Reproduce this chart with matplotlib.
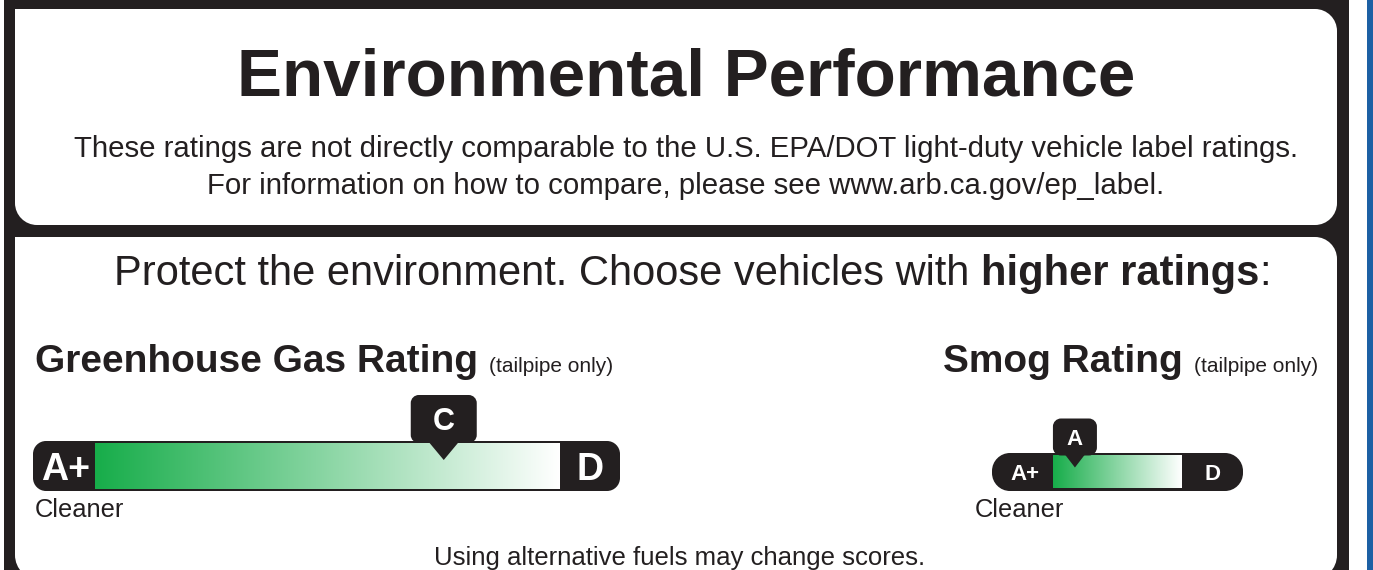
import matplotlib
matplotlib.use("Agg")
import matplotlib.pyplot as plt
import numpy as np
from matplotlib.path import Path
from matplotlib.patches import PathPatch, Rectangle, Polygon
from matplotlib.colors import LinearSegmentedColormap

plt.rcParams['font.family'] = ['Liberation Sans', 'DejaVu Sans']

# label content
title = "Environmental Performance"
note_lines = ["These ratings are not directly comparable to the U.S. EPA/DOT light-duty vehicle label ratings.",
              "For information on how to compare, please see www.arb.ca.gov/ep_label."]
scale_ends = ["A+", "D"]
ghg_grade = "C"
ghg_pos = 0.75      # where the marker sits along the scale (0 = A+, 1 = D)
smog_grade = "A"
smog_pos = 0.17
footer = "Using alternative fuels may change scores."

INK = '#231f20'
GREEN = '#17ad4a'


def rrect(x0, y0, x1, y1, r):
    # rounded rect in pixel coords (y down); r = (tl, tr, br, bl)
    tl, tr, br, bl = r
    k = 0.5523
    verts = [(x0 + tl, y0), (x1 - tr, y0)]
    codes = [Path.MOVETO, Path.LINETO]
    if tr:
        verts += [(x1 - tr + k * tr, y0), (x1, y0 + tr - k * tr), (x1, y0 + tr)]
        codes += [Path.CURVE4] * 3
    verts.append((x1, y1 - br)); codes.append(Path.LINETO)
    if br:
        verts += [(x1, y1 - br + k * br), (x1 - br + k * br, y1), (x1 - br, y1)]
        codes += [Path.CURVE4] * 3
    verts.append((x0 + bl, y1)); codes.append(Path.LINETO)
    if bl:
        verts += [(x0 + bl - k * bl, y1), (x0, y1 - bl + k * bl), (x0, y1 - bl)]
        codes += [Path.CURVE4] * 3
    verts.append((x0, y0 + tl)); codes.append(Path.LINETO)
    if tl:
        verts += [(x0, y0 + tl - k * tl), (x0 + tl - k * tl, y0), (x0 + tl, y0)]
        codes += [Path.CURVE4] * 3
    verts.append((x0 + tl, y0)); codes.append(Path.CLOSEPOLY)
    return Path(verts, codes)


fig = plt.figure(figsize=(13.73, 5.70), dpi=100)
ax = fig.add_axes([0, 0, 1, 1])
ax.set_xlim(0, 1373)
ax.set_ylim(570, 0)
ax.axis('off')

# frame
ax.add_patch(Rectangle((4, 0), 1345, 570, color=INK, lw=0))
ax.add_patch(Rectangle((1367, 0), 6, 570, color='#1c60a4', lw=0))
ax.add_patch(PathPatch(rrect(15, 9, 1337, 225, (0, 22, 22, 22)), fc='white', lw=0))
ax.add_patch(PathPatch(rrect(15, 237, 1337, 580, (0, 22, 25, 25)), fc='white', lw=0))

ax.text(686, 95, title, ha='center', va='baseline', fontsize=48.5, fontweight='bold', color=INK)
ax.text(686, 157, note_lines[0], ha='center', va='baseline', fontsize=21.2, color=INK)
ax.text(686, 194, note_lines[1], ha='center', va='baseline', fontsize=21.2, color=INK)

inv = ax.transData.inverted()


def right_edge(t):
    fig.canvas.draw()
    return inv.transform((t.get_window_extent().x1, 0))[0]


def left_edge(t):
    fig.canvas.draw()
    return inv.transform((t.get_window_extent().x0, 0))[0]


# headline with bold part
t1 = ax.text(114, 285, "Protect the environment. Choose vehicles with ", ha='left', va='baseline',
             fontsize=30, color=INK)
t2 = ax.text(right_edge(t1), 285, "higher ratings", ha='left', va='baseline', fontsize=30,
             fontweight='bold', color=INK)
ax.text(right_edge(t2), 285, ":", ha='left', va='baseline', fontsize=30, color=INK)

# section headings
g = ax.text(35, 372, "Greenhouse Gas Rating", ha='left', va='baseline', fontsize=28,
            fontweight='bold', color=INK)
ax.text(right_edge(g) + 11, 372, "(tailpipe only)", ha='left', va='baseline', fontsize=15, color=INK)

s = ax.text(1318, 372, "(tailpipe only)", ha='right', va='baseline', fontsize=15, color=INK)
ax.text(left_edge(s) - 11, 372, "Smog Rating", ha='right', va='baseline', fontsize=28,
        fontweight='bold', color=INK)

cmap = LinearSegmentedColormap.from_list('g', [GREEN, '#ffffff'])
grad = np.linspace(0, 1, 256).reshape(1, -1)


def scale(x0, x1, y0, y1, gx0, gx1, pad, rad, grade, pos, end_fs, mk, cx):
    ax.add_patch(PathPatch(rrect(x0, y0, x1, y1, (rad,) * 4), fc=INK, lw=0))
    ax.imshow(grad, cmap=cmap, extent=(gx0, gx1, y1 - pad, y0 + pad), aspect='auto',
              interpolation='bilinear', zorder=2)
    ym = (y0 + y1) / 2
    ax.text((x0 + gx0) / 2 + 2, ym, scale_ends[0], ha='center', va='center_baseline',
            fontsize=end_fs, fontweight='bold', color='white', zorder=3)
    ax.text((gx1 + x1) / 2, ym, scale_ends[1], ha='center', va='center_baseline',
            fontsize=end_fs, fontweight='bold', color='white', zorder=3)
    # marker
    mx = gx0 + pos * (gx1 - gx0)
    bw, bh, tip, hw, mfs = mk
    ax.add_patch(PathPatch(rrect(mx - bw / 2, y0 - bh + pad, mx + bw / 2, y0 + pad, (8,) * 4),
                           fc=INK, lw=0, zorder=4))
    ax.add_patch(Polygon([(mx - hw, y0 + pad - 1), (mx + hw, y0 + pad - 1), (mx, y0 + pad + tip)],
                         closed=True, fc=INK, lw=0, zorder=4))
    ax.text(mx, y0 + pad - bh / 2, grade, ha='center', va='center_baseline',
            fontsize=mfs, fontweight='bold', color='white', zorder=5)
    ax.text(cx, 517, "Cleaner", ha='left', va='baseline', fontsize=18.4, color=INK)


scale(33, 620, 441, 491, 95, 560, 2, 13, ghg_grade, ghg_pos, 27, (66, 48, 17, 15, 22), 35)
scale(992, 1243, 453, 491, 1053, 1182, 2.5, 18, smog_grade, smog_pos, 16, (44, 37, 12, 10, 16), 975)

ax.text(680, 565, footer, ha='center', va='baseline', fontsize=18.5, color=INK)

fig.savefig("out.png", dpi=100)
